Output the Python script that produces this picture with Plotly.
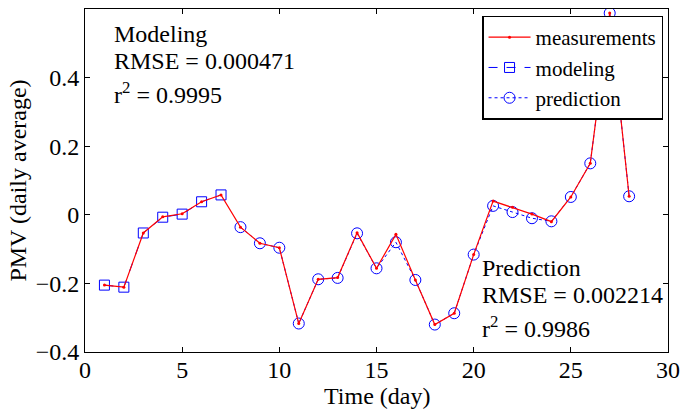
import plotly.graph_objects as go

days = list(range(1, 29))
measurements = [-0.205, -0.211, -0.053, -0.006, 0.003, 0.038, 0.058, -0.036, -0.083, -0.096,
                -0.317, -0.188, -0.183, -0.052, -0.156, -0.057, -0.190, -0.320, -0.287, -0.116,
                0.040, 0.022, 0.002, -0.020, 0.052, 0.150, 0.588, 0.054]
model_days = [1, 2, 3, 4, 5, 6, 7]
modeling = [-0.205, -0.211, -0.053, -0.007, 0.002, 0.038, 0.058]
pred_days = list(range(8, 29))
prediction = [-0.036, -0.083, -0.096, -0.317, -0.188, -0.184, -0.054, -0.156, -0.080, -0.190,
              -0.320, -0.287, -0.116, 0.026, 0.008, -0.010, -0.019, 0.052, 0.150, 0.588, 0.054]

modeling_text = ["Modeling", "RMSE = 0.000471", "r<sup>2</sup> = 0.9995"]
prediction_text = ["Prediction", "RMSE = 0.002214", "r<sup>2</sup> = 0.9986"]

FONT = "Liberation Serif"

fig = go.Figure()
fig.add_trace(go.Scatter(x=model_days, y=modeling, name="modeling", mode="lines+markers",
                         line=dict(color="#0000ff", width=1, dash="dash"),
                         marker=dict(symbol="square-open", size=10, color="#0000ff", line=dict(width=1)),
                         legendrank=2))
fig.add_trace(go.Scatter(x=pred_days, y=prediction, name="prediction", mode="lines+markers",
                         line=dict(color="#0000ff", width=1, dash="dot"),
                         marker=dict(symbol="circle-open", size=11, color="#0000ff", line=dict(width=1)),
                         legendrank=3))
fig.add_trace(go.Scatter(x=days, y=measurements, name="measurements", mode="lines+markers",
                         line=dict(color="#ff0000", width=1.2),
                         marker=dict(symbol="circle", size=3, color="#ff0000"),
                         legendrank=1))

axis_common = dict(showline=True, linecolor="black", linewidth=1, mirror="allticks",
                   ticks="inside", ticklen=5, tickwidth=1, tickcolor="black",
                   showgrid=False, zeroline=False,
                   tickfont=dict(family=FONT, size=24, color="black"))

fig.update_xaxes(range=[0, 30], dtick=5, tick0=0, ticklabelstandoff=-4, **axis_common)
fig.update_yaxes(range=[-0.4, 0.6], dtick=0.2, tick0=-0.4,
                 title=dict(text="PMV (daily average)", font=dict(family=FONT, size=24, color="black"), standoff=2),
                 **axis_common)

ann_font = dict(family=FONT, size=24, color="black")
fig.add_annotation(text="Time (day)", xref="paper", yref="paper", x=0.5, y=-0.128,
                   xanchor="center", yanchor="middle", showarrow=False, font=ann_font)

for txt, yy in zip(modeling_text, [0.927, 0.848, 0.754]):
    fig.add_annotation(text=txt, xref="paper", yref="paper", x=0.046, y=yy,
                       xanchor="left", yanchor="middle", align="left", showarrow=False, font=ann_font)
for txt, yy in zip(prediction_text, [0.244, 0.166, 0.074]):
    fig.add_annotation(text=txt, xref="paper", yref="paper", x=0.678, y=yy,
                       xanchor="left", yanchor="middle", align="left", showarrow=False, font=ann_font)

fig.update_layout(
    width=688, height=410,
    margin=dict(l=85, r=16, t=8, b=58),
    paper_bgcolor="white", plot_bgcolor="white",
    font=dict(family=FONT, size=24, color="black"),
    legend=dict(x=0.9915, y=0.981, xanchor="right", yanchor="top",
                bgcolor="white", bordercolor="black", borderwidth=1.5,
                font=dict(family=FONT, size=21, color="black"),
                tracegroupgap=0, itemwidth=42),
    showlegend=True,
)

fig.write_html("out.html")
